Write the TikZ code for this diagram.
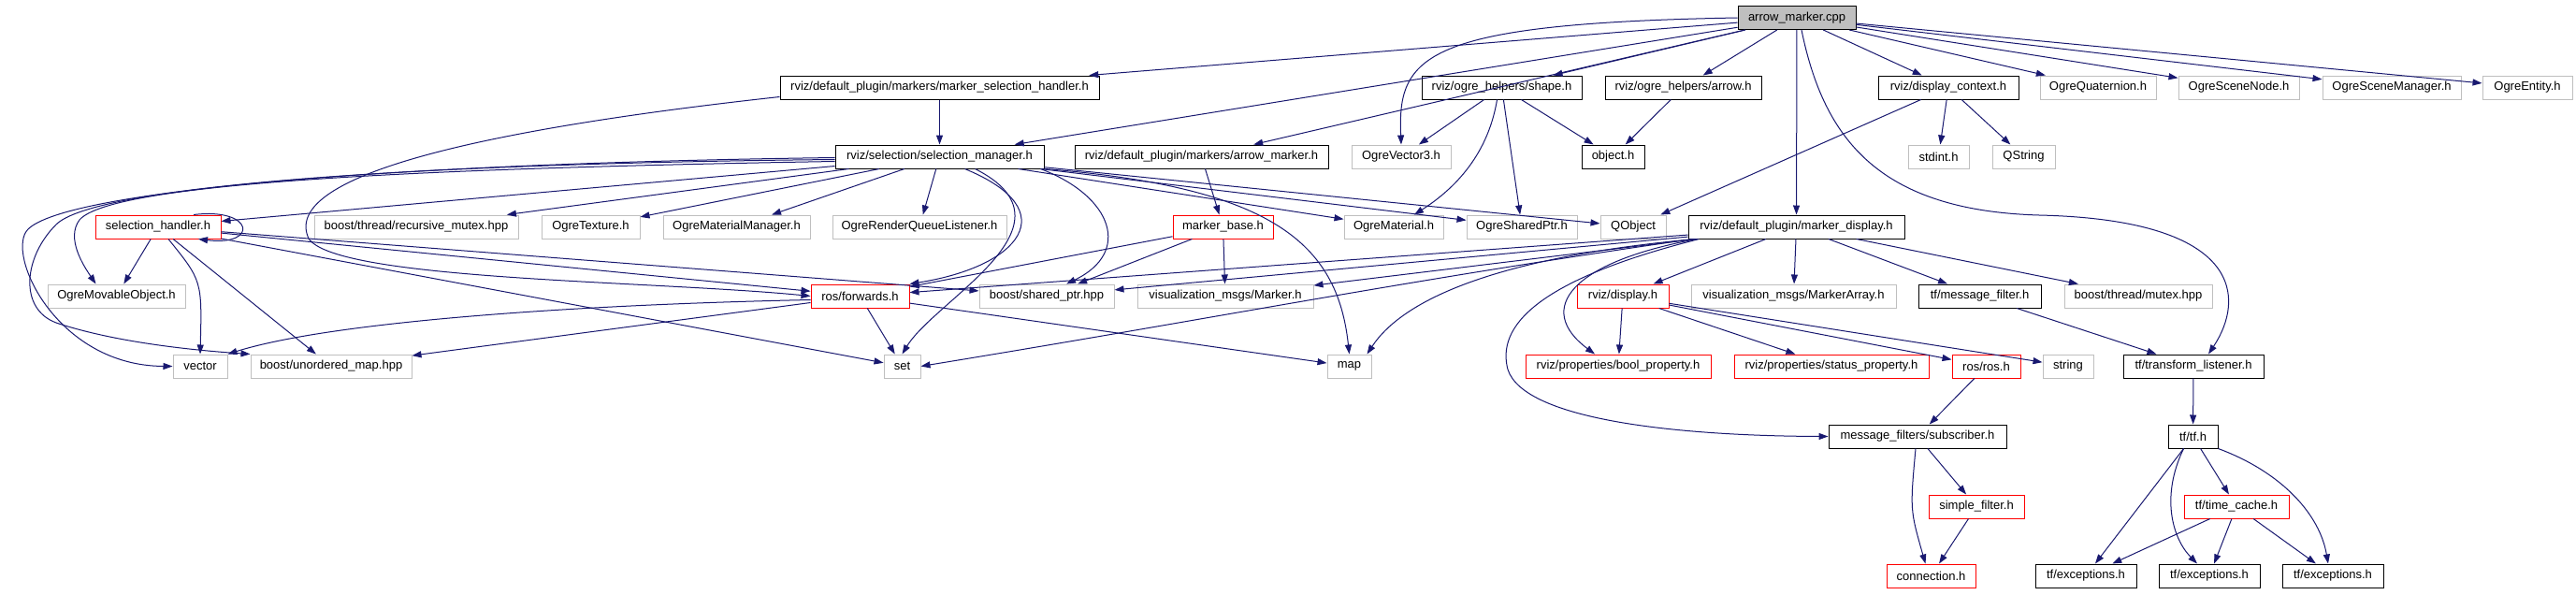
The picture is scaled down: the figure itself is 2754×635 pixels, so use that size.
\documentclass[tikz,border=0pt]{standalone}
\usepackage{fontspec}
\setmainfont{Liberation Sans}
\usetikzlibrary{arrows.meta}
\definecolor{edgeblue}{HTML}{191970}
\definecolor{sysgray}{HTML}{BFBFBF}
\begin{document}
\begin{tikzpicture}[x=1pt, y=-1pt, >={Triangle[length=10pt,width=7pt]},
    every node/.style={font=\fontsize{13}{15}\selectfont, minimum height=25pt, inner sep=0pt, line width=1pt},
    hdr/.style={draw=black},
    sys/.style={draw=sysgray},
    cut/.style={draw=red},
    root/.style={draw=black, fill=sysgray},
    edge/.style={->, draw=edgeblue, line width=1pt}]
        \fill[white] (0,0) rectangle (2754,635);
        \useasboundingbox (0,0) rectangle (2754,635);
        % row 0 and 1
        \node[root, minimum width=126pt] (amcpp)  at (1921,19)   {arrow\_marker.cpp};
        \node[hdr, minimum width=341pt]  (msh)    at (1004.5,93.5) {rviz/default\_plugin/markers/marker\_selection\_handler.h};
        \node[hdr, minimum width=171pt]  (shape)  at (1605.5,93.5) {rviz/ogre\_helpers/shape.h};
        \node[hdr, minimum width=167pt]  (arrowh) at (1799.5,93.5) {rviz/ogre\_helpers/arrow.h};
        \node[hdr, minimum width=150pt]  (dctx)   at (2083,93.5)   {rviz/display\_context.h};
        \node[sys, minimum width=124pt]  (oquat)  at (2243,93.5)   {OgreQuaternion.h};
        \node[sys, minimum width=129pt]  (oscn)   at (2393.5,93.5) {OgreSceneNode.h};
        \node[sys, minimum width=148pt]  (oscm)   at (2557,93.5)   {OgreSceneManager.h};
        \node[sys, minimum width=96pt]   (oent)   at (2702,93.5)   {OgreEntity.h};
        % row 2
        \node[hdr, minimum width=223pt]  (selmgr) at (1004.5,167.5) {rviz/selection/selection\_manager.h};
        \node[hdr, minimum width=271pt]  (amh)    at (1284.5,167.5) {rviz/default\_plugin/markers/arrow\_marker.h};
        \node[sys, minimum width=106pt]  (ovec)   at (1498,167.5)   {OgreVector3.h};
        \node[hdr, minimum width=67pt]   (obj)    at (1724.5,167.5) {object.h};
        \node[sys, minimum width=65pt]   (stdint) at (2072.5,167.5) {stdint.h};
        \node[sys, minimum width=67pt]   (qstr)   at (2163.5,167.5) {QString};
        % row 3
        \node[cut, minimum width=134pt]  (selh)    at (169,242.5)    {selection\_handler.h};
        \node[sys, minimum width=218pt]  (rmutex)  at (445,242.5)    {boost/thread/recursive\_mutex.hpp};
        \node[sys, minimum width=105pt]  (otex)    at (631.5,242.5)  {OgreTexture.h};
        \node[sys, minimum width=157pt]  (omatmgr) at (787.5,242.5)  {OgreMaterialManager.h};
        \node[sys, minimum width=186pt]  (orql)    at (983,242.5)    {OgreRenderQueueListener.h};
        \node[cut, minimum width=107pt]  (mbase)   at (1307.5,242.5) {marker\_base.h};
        \node[sys, minimum width=106pt]  (omat)    at (1490,242.5)   {OgreMaterial.h};
        \node[sys, minimum width=118pt]  (osptr)   at (1627,242.5)   {OgreSharedPtr.h};
        \node[sys, minimum width=70pt]   (qobj)    at (1746,242.5)   {QObject};
        \node[hdr, minimum width=231pt]  (mdisp)   at (1920.5,242.5) {rviz/default\_plugin/marker\_display.h};
        % row 4
        \node[sys, minimum width=147pt]  (omov)    at (124.5,316.5)  {OgreMovableObject.h};
        \node[cut, minimum width=105pt]  (rosfwd)  at (919.5,316.5)  {ros/forwards.h};
        \node[sys, minimum width=144pt]  (bsptr)   at (1119,316.5)   {boost/shared\_ptr.hpp};
        \node[sys, minimum width=188pt]  (vmarker) at (1310,316.5)   {visualization\_msgs/Marker.h};
        \node[cut, minimum width=98pt]   (rdisp)   at (1735,316.5)   {rviz/display.h};
        \node[sys, minimum width=219pt]  (vmarr)   at (1917.5,316.5) {visualization\_msgs/MarkerArray.h};
        \node[hdr, minimum width=131pt]  (tfmf)    at (2116.5,316.5) {tf/message\_filter.h};
        \node[sys, minimum width=158pt]  (bmutex)  at (2286,316.5)   {boost/thread/mutex.hpp};
        % row 5
        \node[sys, minimum width=58pt]   (vectorh) at (214,391.5)    {vector};
        \node[sys, minimum width=172pt]  (bumap)   at (354,391.5)    {boost/unordered\_map.hpp};
        \node[sys, minimum width=39pt]   (seth)    at (964.5,391.5)  {set};
        \node[sys, minimum width=47pt]   (maph)    at (1442.5,391.5) {map};
        \node[cut, minimum width=198pt]  (boolp)   at (1730,391.5)   {rviz/properties/bool\_property.h};
        \node[cut, minimum width=208pt]  (statusp) at (1958,391.5)   {rviz/properties/status\_property.h};
        \node[cut, minimum width=73pt]   (rosros)  at (2123.5,391.5) {ros/ros.h};
        \node[sys, minimum width=54pt]   (stringh) at (2211,391.5)   {string};
        \node[hdr, minimum width=150pt]  (tflist)  at (2345,391.5)   {tf/transform\_listener.h};
        % rows 6 to 8
        \node[hdr, minimum width=190pt]  (msub)    at (2050,466.5)   {message\_filters/subscriber.h};
        \node[hdr, minimum width=53pt]   (tftf)    at (2344.5,466.5) {tf/tf.h};
        \node[cut, minimum width=102pt]  (sfilt)   at (2113,541.5)   {simple\_filter.h};
        \node[cut, minimum width=112pt]  (tcache)  at (2391,541.5)   {tf/time\_cache.h};
        \node[cut, minimum width=95pt]   (conn)    at (2064.5,615.5) {connection.h};
        \node[hdr, minimum width=108pt]  (exca)    at (2230,615.5)   {tf/exceptions.h};
        \node[hdr, minimum width=108pt]  (excb)    at (2362,615.5)   {tf/exceptions.h};
        \node[hdr, minimum width=108pt]  (excc)    at (2494,615.5)   {tf/exceptions.h};

        \foreach \a/\b in {amcpp/msh, amcpp/selmgr, amcpp/amh, amcpp/shape, amcpp/arrowh,
                amcpp/mdisp, amcpp/dctx, amcpp/oquat, amcpp/oscn, amcpp/oscm, amcpp/oent,
                msh/selmgr, shape/ovec, shape/osptr, shape/obj, arrowh/obj,
                dctx/qobj, dctx/stdint, dctx/qstr,
                selmgr/selh, selmgr/rmutex, selmgr/otex, selmgr/omatmgr, selmgr/orql,
                selmgr/omat, selmgr/osptr, selmgr/qobj, amh/mbase,
                selh/omov, selh/bumap, selh/bsptr, selh/rosfwd, selh/seth,
                mbase/rosfwd, mbase/bsptr, mbase/vmarker,
                mdisp/rosfwd, mdisp/bsptr, mdisp/vmarker, mdisp/rdisp, mdisp/vmarr,
                mdisp/tfmf, mdisp/bmutex,
                rosfwd/bumap, rosfwd/seth, rosfwd/maph,
                rdisp/boolp, rdisp/statusp, rdisp/rosros, rdisp/stringh,
                tfmf/tflist, rosros/msub, msub/sfilt, sfilt/conn, tflist/tftf,
                tftf/exca, tftf/tcache, tcache/exca, tcache/excb, tcache/excc} {
            \draw[edge] (\a) -- (\b);
        }

        % curved ones
        \draw[edge] (amcpp.west) .. controls (1520,25) and (1494,60) .. (ovec.north);
        \draw[edge] ([xshift=5pt]amcpp.south) .. controls (1950,150) and (2010,225) .. (2180,230)
            .. controls (2400,235) and (2400,320) .. ([xshift=16pt]tflist.north);
        \draw[edge] ([yshift=-10pt]msh.west) .. controls (500,140) and (300,190) .. (330,255)
            .. controls (360,300) and (700,300) .. (rosfwd.west);
        \draw[edge] ([yshift=-1pt]selmgr.west) .. controls (400,175) and (70,205) .. (30,245)
            .. controls (5,270) and (60,391) .. (vectorh.west);
        \draw[edge] ([yshift=-3pt]selmgr.west) .. controls (420,175) and (100,200) .. (60,240)
            .. controls (25,275) and (20,330) .. (60,345)
            .. controls (120,365) and (200,374) .. (bumap.north west);
        \draw[edge] ([yshift=-5pt]selmgr.west) .. controls (450,180) and (120,195) .. (85,235)
            .. controls (70,255) and (90,285) .. ([xshift=-22pt]omov.north);
        \draw[edge] ([xshift=27pt]selmgr.south) .. controls (1140,225) and (1090,285) .. (rosfwd.north east);
        \draw[edge] ([xshift=38pt]selmgr.south) .. controls (1160,240) and (1000,320) .. (seth.north);
        \draw[edge] ([xshift=-4pt]selmgr.south east) .. controls (1190,210) and (1210,270) .. ([xshift=21pt]bsptr.north);
        \draw[edge] (selmgr.south east) .. controls (1360,200) and (1430,260) .. (maph.north);
        \draw[edge] ([xshift=11pt]selh.south) .. controls (216,300) .. (vectorh.north);
        \draw[edge] ([xshift=38pt]selh.north) .. controls +(65,-8) and +(65,8) .. ([xshift=43pt]selh.south);
        \draw[edge] ([yshift=-4pt]rosfwd.west) .. controls (600,326) and (350,345) .. (vectorh.north east);
        \draw[edge] ([xshift=5pt]mdisp.south west) .. controls (1500,300) and (1300,340) .. (seth.east);
        \draw[edge] ([xshift=8pt]mdisp.south west) .. controls (1600,275) and (1500,320) .. ([xshift=-5pt]maph.north east);
        \draw[edge] ([xshift=10pt]mdisp.south west) .. controls (1680,280) and (1640,330) .. ([xshift=-25pt]boolp.north);
        \draw[edge] ([xshift=12pt]mdisp.south west) .. controls (1640,300) and (1600,350) .. (1612,395)
            .. controls (1630,450) and (1800,466) .. (msub.west);
        \draw[edge] ([xshift=-5pt]shape.south) .. controls (1590,170) and (1550,205) .. ([xshift=22pt]omat.north);
        \draw[edge] ([xshift=-2pt]msub.south) .. controls (2042,545) .. ([xshift=-6pt]conn.north);
        \draw[edge] ([xshift=-10pt]tftf.south) .. controls (2310,530) and (2322,575) .. ([xshift=-13pt]excb.north);
        \draw[edge] (tftf.south east) .. controls (2440,505) and (2480,550) .. ([xshift=-5pt]excc.north);
    \end{tikzpicture}
\end{document}
